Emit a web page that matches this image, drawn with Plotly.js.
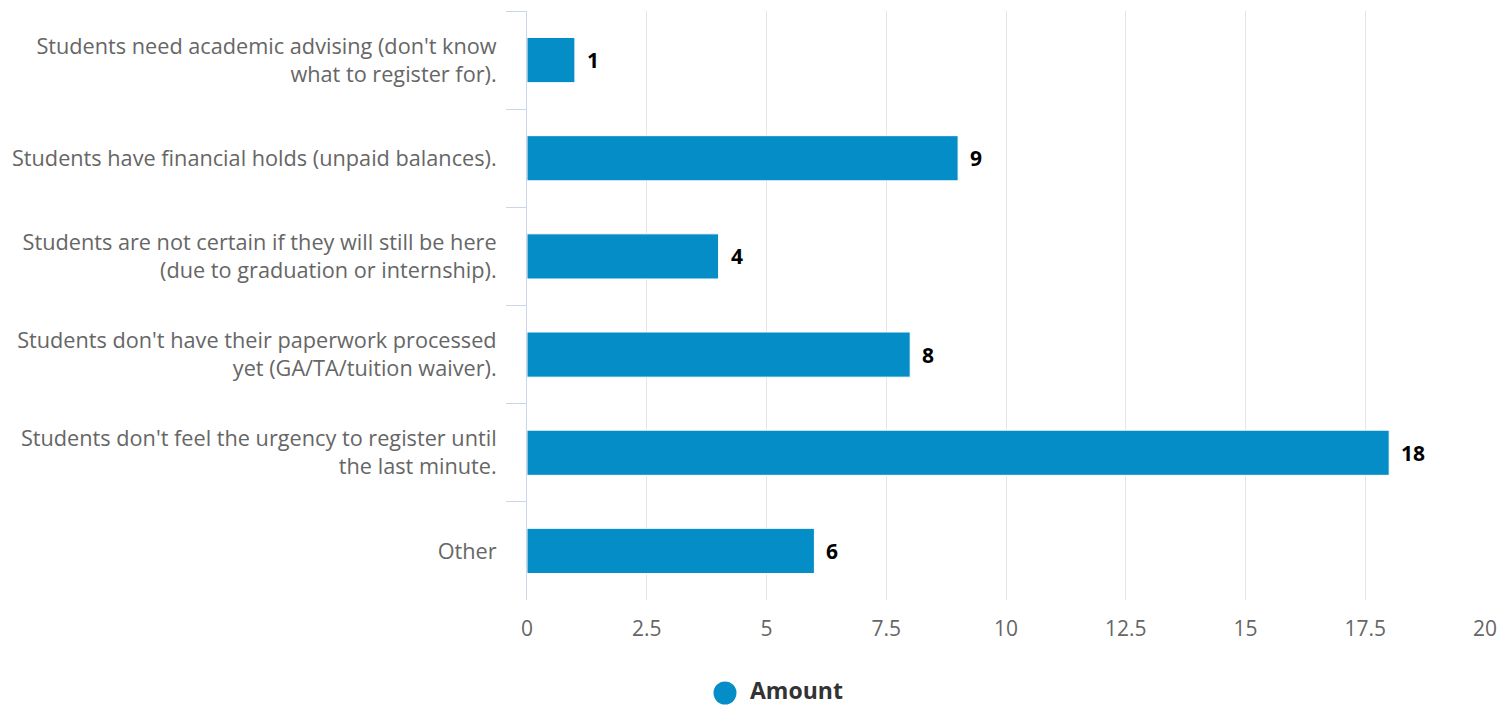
<!DOCTYPE html>
<html>
<head>
<meta charset="utf-8">
<script src="https://cdn.plot.ly/plotly-3.0.1.min.js"></script>
<style>
  html, body { margin: 0; padding: 0; background: #fff; }
  #chart { width: 1501px; height: 706px; }
</style>
</head>
<body>
<div id="chart"></div>
<script>
const categories = [
  "Students need academic advising (don't know<br>what to register for).",
  "Students have financial holds (unpaid balances).",
  "Students are not certain if they will still be here<br>(due to graduation or internship).",
  "Students don't have their paperwork processed<br>yet (GA/TA/tuition waiver).",
  "Students don't feel the urgency to register until<br>the last minute.",
  "Other"
];
const amounts = [1, 9, 4, 8, 18, 6];
const seriesName = "Amount";
const xTickValues = [0, 2.5, 5, 7.5, 10, 12.5, 15, 17.5, 20];
const xTickLabels = ["0", "2.5", "5", "7.5", "10", "12.5", "15", "17.5", "20"];

const barColor = "#058dc7";
const fontFamily = "'Open Sans', 'Noto Sans', sans-serif";

const traces = [{
  type: "bar",
  orientation: "h",
  x: amounts,
  y: categories,
  name: seriesName,
  marker: { color: barColor, line: { color: "#ffffff", width: 1 } },
  hoverinfo: "x+y",
  showlegend: false
}];

const annotations = amounts.map((v, i) => ({
  x: v,
  y: categories[i],
  xref: "x",
  yref: "y",
  text: String(v),
  showarrow: false,
  xanchor: "left",
  yanchor: "middle",
  xshift: 10,
  font: { family: fontFamily, size: 21, color: "#000000", weight: "bold" }
}));

annotations.push({
  x: 0,
  y: 0,
  xref: "paper",
  yref: "paper",
  yanchor: "middle",
  xanchor: "left",
  xshift: 752 - 527 - 3,
  yshift: -90,
  borderpad: 0,
  text: "<b>" + seriesName + "</b>",
  showarrow: false,
  font: { family: fontFamily, size: 23, color: "#333333" }
});

const layout = {
  width: 1501,
  height: 706,
  margin: { l: 527, r: 16, t: 11, b: 106 },
  paper_bgcolor: "#ffffff",
  plot_bgcolor: "#ffffff",
  bargap: 0.54,
  showlegend: false,
  font: { family: fontFamily, color: "#666666", size: 20 },
  xaxis: {
    range: [0, 20],
    tickvals: xTickValues,
    ticktext: xTickLabels,
    showgrid: true,
    gridcolor: "#e6e6e6",
    gridwidth: 1,
    zeroline: false,
    showline: false,
    ticks: "",
    ticklabelstandoff: 14,
    tickfont: { family: fontFamily, size: 21, color: "#666666" },
    fixedrange: true
  },
  yaxis: {
    type: "category",
    autorange: "reversed",
    showgrid: false,
    zeroline: false,
    showline: true,
    linecolor: "#ccd6eb",
    linewidth: 1,
    ticks: "outside",
    tickson: "boundaries",
    ticklen: 20,
    tickcolor: "#ccd6eb",
    tickwidth: 1,
    ticklabelstandoff: 25,
    tickfont: { family: fontFamily, size: 21.7, color: "#666666" },
    fixedrange: true
  },
  shapes: [{
    type: "circle",
    xref: "paper",
    yref: "paper",
    xsizemode: "pixel",
    ysizemode: "pixel",
    xanchor: 0,
    yanchor: 0,
    x0: 725 - 527 - 11.5,
    x1: 725 - 527 + 11.5,
    y0: -93 - 11.5,
    y1: -93 + 11.5,
    fillcolor: barColor,
    line: { width: 0 }
  }],
  annotations: annotations
};

Plotly.newPlot("chart", traces, layout, { displayModeBar: false, responsive: false });
</script>
</body>
</html>
